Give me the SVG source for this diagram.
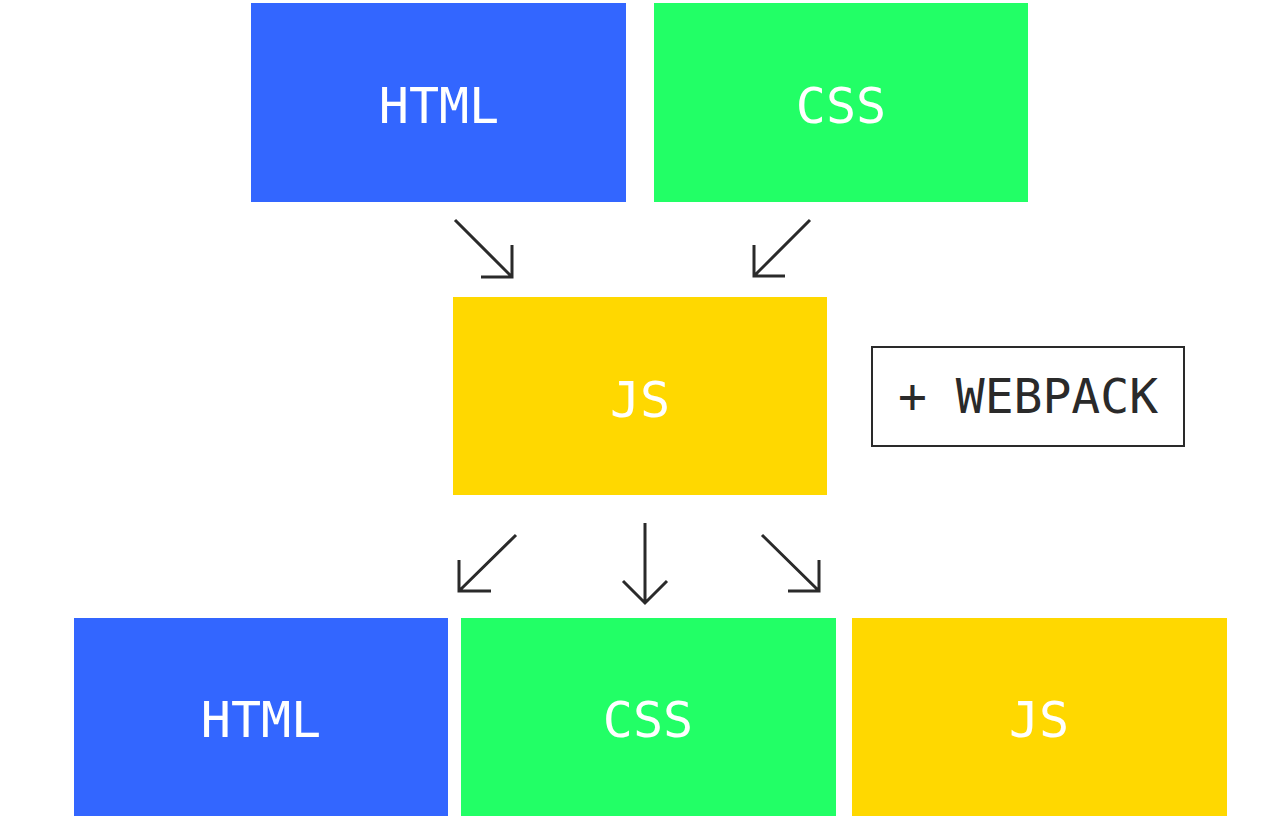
<svg xmlns="http://www.w3.org/2000/svg" width="1280" height="819" viewBox="0 0 1280 819">
<defs>
<style>
.blue{fill:#3366FF}
.green{fill:#22FF66}
.yellow{fill:#FFD800}
.lbl{font-family:"DejaVu Sans Mono","Liberation Mono",monospace;font-size:50px;fill:#ffffff;text-anchor:middle}
.wp{font-family:"DejaVu Sans Mono","Liberation Mono",monospace;font-size:48px;fill:#2a2a2a;text-anchor:middle}
.arr{fill:none;stroke:#2a2a2a;stroke-width:3}
</style>
</defs>
<rect width="1280" height="819" fill="#ffffff"/>
<g id="html-top"><rect class="blue" x="251" y="3" width="375" height="199"/><text class="lbl" x="439" y="123">HTML</text></g>
<g id="css-top"><rect class="green" x="654" y="3" width="374" height="199"/><text class="lbl" x="841" y="123">CSS</text></g>
<g id="js-mid"><rect class="yellow" x="453" y="297" width="374" height="198"/><text class="lbl" x="640" y="417">JS</text></g>
<g id="webpack"><rect x="872" y="347" width="312" height="99" fill="none" stroke="#2a2a2a" stroke-width="2"/><text class="wp" x="1028" y="413">+ WEBPACK</text></g>
<g id="html-bot"><rect class="blue" x="74" y="618" width="374" height="198"/><text class="lbl" x="261" y="737">HTML</text></g>
<g id="css-bot"><rect class="green" x="461" y="618" width="375" height="198"/><text class="lbl" x="648" y="737">CSS</text></g>
<g id="js-bot"><rect class="yellow" x="852" y="618" width="375" height="198"/><text class="lbl" x="1039" y="737">JS</text></g>
<g id="connectors">
<path class="arr" d="M455 220 L512 277 M512 245 L512 277 L481 277"/>
<path class="arr" d="M810 220 L754 276 M754 245 L754 276 L785 276"/>
<path class="arr" d="M516 535 L459 591 M459 560 L459 591 L491 591"/>
<path class="arr" d="M645 523 L645 603 M623 581 L645 603 L667 581"/>
<path class="arr" d="M762 535 L819 591 M819 560 L819 591 L788 591"/>
</g>
</svg>
